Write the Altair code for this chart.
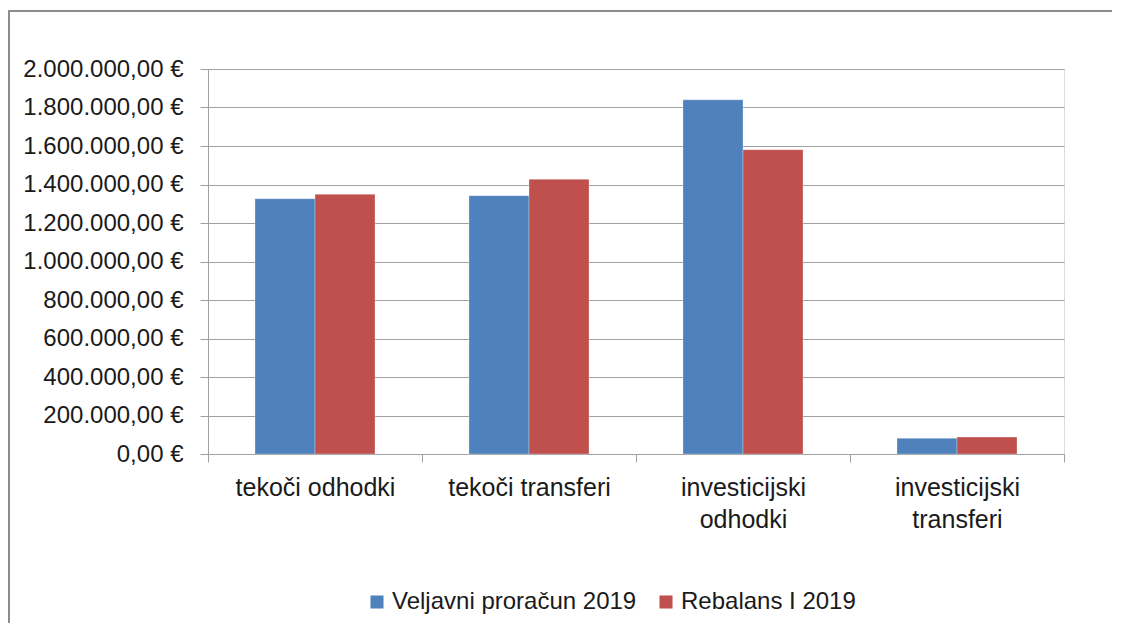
import altair as alt
import pandas as pd

categories = ["tekoči odhodki", "tekoči transferi", "investicijski|odhodki", "investicijski|transferi"]
series = ["Veljavni proračun 2019", "Rebalans I 2019"]
veljavni = [1326000, 1342000, 1840000, 81500]
rebalans = [1349000, 1427000, 1581000, 88000]
colors = ["#4f81bd", "#c0504d"]

y_tick_values = [0, 200000, 400000, 600000, 800000, 1000000, 1200000, 1400000, 1600000, 1800000, 2000000]
y_tick_labels = ["0,00 €", "200.000,00 €", "400.000,00 €", "600.000,00 €", "800.000,00 €",
                 "1.000.000,00 €", "1.200.000,00 €", "1.400.000,00 €", "1.600.000,00 €",
                 "1.800.000,00 €", "2.000.000,00 €"]

rows = []
for c, v in zip(categories, veljavni):
    rows.append({"cat": c, "series": series[0], "value": v})
for c, v in zip(categories, rebalans):
    rows.append({"cat": c, "series": series[1], "value": v})
df = pd.DataFrame(rows)

label_expr = "''"
for v, l in zip(y_tick_values, y_tick_labels):
    label_expr = f"datum.value == {v} ? '{l}' : ({label_expr})"

FONT = "Liberation Sans"
GRAY = "#a0a0a0"

bars = alt.Chart(df).mark_bar(stroke="#ffffff", strokeOpacity=0.35, strokeWidth=0.8).encode(
    x=alt.X("cat:N", sort=categories,
            scale=alt.Scale(paddingInner=0, paddingOuter=0),
            axis=alt.Axis(title=None, labelAngle=0, labelExpr="split(datum.label, '|')",
                          tickBand="extent", tickSize=8, tickColor=GRAY, domainColor=GRAY,
                          labelFont=FONT, labelFontSize=25, labelColor="#1a1a1a",
                          labelPadding=13, labelLineHeight=32, grid=False)),
    xOffset=alt.XOffset("series:N", sort=series,
                        scale=alt.Scale(paddingInner=0, paddingOuter=0.783)),
    y=alt.Y("value:Q", scale=alt.Scale(domain=[0, 2000000], nice=False),
            axis=alt.Axis(title=None, values=y_tick_values, labelExpr=label_expr,
                          tickSize=8, tickColor=GRAY, domainColor=GRAY,
                          gridColor=GRAY, gridWidth=1,
                          labelFont=FONT, labelFontSize=24, labelColor="#1a1a1a",
                          labelPadding=17)),
    color=alt.Color("series:N", sort=series,
                    scale=alt.Scale(domain=series, range=colors),
                    legend=alt.Legend(title=None, orient="none", direction="horizontal",
                                      legendX=157, legendY=521,
                                      symbolType="square", symbolSize=170,
                                      symbolStrokeWidth=0, labelFont=FONT,
                                      labelFontSize=24, labelColor="#1a1a1a",
                                      labelLimit=0,
                                      labelOffset=3, columnPadding=17)),
)

frame_top = alt.Chart(pd.DataFrame({"a": [0]})).mark_rule(color="#8c8c8c", strokeWidth=2).encode(
    x=alt.value(-199), x2=alt.value(904), y=alt.value(-58))
frame_left = alt.Chart(pd.DataFrame({"a": [0]})).mark_rule(color="#8c8c8c", strokeWidth=2).encode(
    x=alt.value(-199), y=alt.value(-59), y2=alt.value(600))

chart = alt.layer(bars, frame_top, frame_left).properties(
    width=856, height=385,
    padding={"left": 200, "top": 61, "right": 48, "bottom": 169},
    autosize=alt.AutoSizeParams(type="none"),
).configure_view(stroke=None).configure(background="white")

chart.save("out.html", embed_options={"renderer": "svg", "actions": False})
